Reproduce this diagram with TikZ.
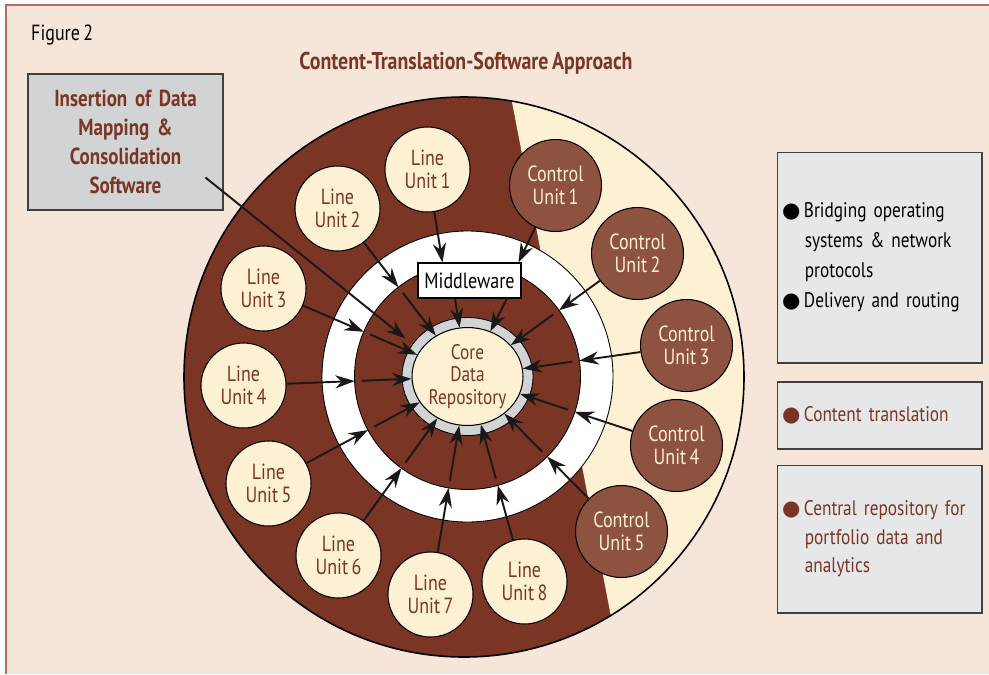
\documentclass[tikz,border=0pt]{standalone}
\usepackage{fontspec}
\setmainfont{PT Sans}[FakeStretch=0.82, WordSpace=0.7]
\newfontfamily\dotfont{DejaVu Sans}
\usetikzlibrary{calc,shapes.geometric,arrows.meta}

\definecolor{paper}{HTML}{F6E6DA}
\definecolor{rust}{HTML}{7B3524}
\definecolor{cream}{HTML}{FEF0D2}
\definecolor{clay}{HTML}{8E5241}
\definecolor{ltgrey}{HTML}{E6E7E8}
\definecolor{midgrey}{HTML}{D1D3D4}
\definecolor{framecol}{HTML}{B07060}

\newcommand{\bul}{\makebox[12.5pt][l]{\dotfont ●}}
\newcommand{\cont}{\hspace*{13pt}}

\tikzset{
    lineunit/.style={circle, draw, line width=.6pt, fill=cream, text=rust, minimum size=1.7cm, inner sep=0pt, align=center, font=\fontsize{12.5}{13.3}\selectfont},
    ctrlunit/.style={circle, draw, line width=.6pt, fill=clay, text=cream, minimum size=1.84cm, inner sep=0pt, align=center, font=\fontsize{12.5}{13.3}\selectfont},
    hub/.style={draw, line width=.6pt, fill=white, minimum width=2.06cm, minimum height=.7cm, inner sep=0pt, font=\fontsize{12.5}{14}\selectfont},
    sidebox/.style={draw=black!75, line width=.6pt, fill=ltgrey, text width=3.9cm, inner sep=.1cm, align=left, font=\fontsize{12}{17}\selectfont},
    feed/.style={-{Stealth[length=11pt, width=7.5pt]}, line width=1.1pt, draw=black!90}
}

\begin{document}
\begin{tikzpicture}[x=0.02cm, y=-0.02cm]
    \useasboundingbox (0, 0) rectangle (989, 674);
    \fill [white] (0, 0) rectangle (989, 674);
    \fill [paper] (6, 5) rectangle (989, 674);
    \draw [framecol, line width=.7pt] (6, 674) -- (6, 5) -- (989, 5);

    \node [anchor=west, font=\fontsize{12.5}{14}\selectfont] (fig) at (25, 35) {Figure 2};
    \node [text=rust, font=\bfseries\fontsize{13.8}{15}\selectfont] (title) at (466, 63) {Content-Translation-Software Approach};

    % outer disc, light segment on the right
    \coordinate (ctr) at (467.5, 376.5);
    \fill [rust] (464, 377) circle [radius=280];
    \begin{scope}
        \clip (464, 377) circle [radius=280];
        \fill [cream] (502, 50) -- (627, 700) -- (800, 700) -- (800, 50) -- cycle;
    \end{scope}
    \draw [line width=.9pt] (464, 377) circle [radius=280];

    % rings round the core
    \filldraw [fill=white, line width=.5pt] (ctr) circle [radius=145.5];
    \filldraw [fill=rust, line width=.5pt] (ctr) circle [radius=113];
    \filldraw [fill=midgrey, line width=.5pt] (ctr) ellipse [x radius=65.5, y radius=59];
    \node [ellipse, draw, line width=.6pt, fill=cream, text=rust, minimum width=2.22cm, minimum height=1.96cm, inner sep=0pt, align=center, font=\fontsize{12}{12.8}\selectfont] (core) at (ctr) {Core\\Data\\Repository};

    \node [hub] (MW) at ($(ctr) + (2, -96)$) {Middleware};

    \node [lineunit] (LU1) at ($(ctr) + (-40, -207)$) {Line\\Unit 1};
    \node [lineunit] (LU2) at ($(ctr) + (-130, -168)$) {Line\\Unit 2};
    \node [lineunit] (LU3) at ($(ctr) + (-204, -88)$) {Line\\Unit 3};
    \node [lineunit] (LU4) at ($(ctr) + (-224, 9)$) {Line\\Unit 4};
    \node [lineunit] (LU5) at ($(ctr) + (-199, 107)$) {Line\\Unit 5};
    \node [lineunit] (LU6) at ($(ctr) + (-129, 179)$) {Line\\Unit 6};
    \node [lineunit] (LU7) at ($(ctr) + (-37, 218)$) {Line\\Unit 7};
    \node [lineunit] (LU8) at ($(ctr) + (57, 205)$) {Line\\Unit 8};

    \node [ctrlunit] (CU1) at ($(ctr) + (88, -191)$) {Control\\Unit 1};
    \node [ctrlunit] (CU2) at ($(ctr) + (170, -123)$) {Control\\Unit 2};
    \node [ctrlunit] (CU3) at ($(ctr) + (219, -31)$) {Control\\Unit 3};
    \node [ctrlunit] (CU4) at ($(ctr) + (209, 69)$) {Control\\Unit 4};
    \node [ctrlunit] (CU5) at ($(ctr) + (154, 155)$) {Control\\Unit 5};

    \node [sidebox, fill=midgrey, text=rust, text width=3.7cm, minimum height=2.72cm, align=center, font=\bfseries\fontsize{13.2}{16.5}\selectfont] (ins) at (125.5, 142) {Insertion of Data\\Mapping \&\\Consolidation\\Software};

    \node [sidebox, minimum height=4.22cm] (sys) at (879.5, 257.5) {\bul Bridging operating\\\cont systems \& network\\\cont protocols\\\bul Delivery and routing};
    \node [sidebox, minimum height=1.34cm, text=rust] (trans) at (879.5, 415.5) {\bul Content translation};
    \node [sidebox, minimum height=2.96cm, text=rust, font=\fontsize{12}{16.2}\selectfont] (repo) at (879.5, 539) {\bul Central repository for\\\cont portfolio data and\\\cont analytics};

    % units into the white ring
    \draw [feed] (LU1) -- ($(MW.north west)!.24!(MW.north east)$);
    \draw [feed] (CU1) -- ($(MW.north west)!.97!(MW.north east)$);
    \draw [feed] (LU2) -- ($(ctr)!2.26cm!(LU2)$);
    \draw [feed] (LU3) -- ($(ctr)!2.26cm!(LU3)$);
    \draw [feed] (LU4) -- ($(ctr)!2.26cm!(LU4)$);
    \draw [feed] (LU5) -- ($(ctr)!2.26cm!(LU5)$);
    \draw [feed] (LU6) -- ($(ctr)!2.26cm!(LU6)$);
    \draw [feed] (LU7) -- ($(ctr)!2.26cm!(LU7)$);
    \draw [feed] (LU8) -- ($(ctr)!2.26cm!(LU8)$);
    \draw [feed] (CU2) -- ($(ctr)!2.26cm!(CU2)$);
    \draw [feed] (CU3) -- ($(ctr)!2.26cm!(CU3)$);
    \draw [feed] (CU4) -- ($(ctr)!2.26cm!(CU4)$);
    \draw [feed] (CU5) -- ($(ctr)!2.26cm!(CU5)$);

    % middle ring into the core
    \draw [feed] ($(MW.south west)!.36!(MW.south east)$) -- (core);
    \draw [feed] ($(MW.south west)!.86!(MW.south east)$) -- (core);
    \draw [feed] ($(ctr)!2.12cm!(LU2)$) -- (core);
    \draw [feed] ($(ctr)!2.12cm!(LU3)$) -- (core);
    \draw [feed] ($(ctr)!2.12cm!(LU4)$) -- (core);
    \draw [feed] ($(ctr)!2.12cm!(LU5)$) -- (core);
    \draw [feed] ($(ctr)!2.12cm!(LU6)$) -- (core);
    \draw [feed] ($(ctr)!2.12cm!(LU7)$) -- (core);
    \draw [feed] ($(ctr)!2.12cm!(LU8)$) -- (core);
    \draw [feed] ($(ctr)!2.12cm!(CU2)$) -- (core);
    \draw [feed] ($(ctr)!2.12cm!(CU3)$) -- (core);
    \draw [feed] ($(ctr)!2.12cm!(CU4)$) -- (core);
    \draw [feed] ($(ctr)!2.12cm!(CU5)$) -- (core);

    \coordinate (insend) at ($(ctr) + (-62, -38)$);
    \draw [feed] ($(ins.south east) + (-18, -33)$) -- (insend);
\end{tikzpicture}
\end{document}
